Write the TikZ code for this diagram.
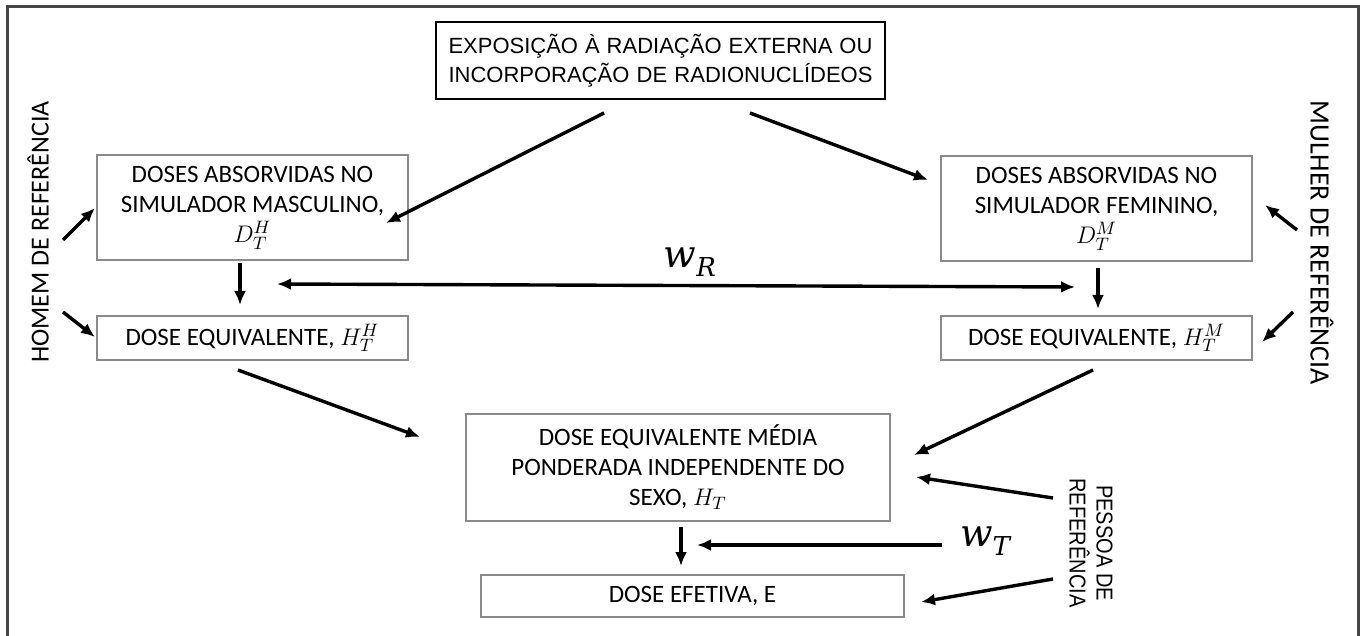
\documentclass[tikz,border=0pt]{standalone}
\usepackage{fontspec}
\setmainfont{Carlito}
\newfontfamily\arialf{Liberation Sans}
\newfontfamily\wfont{DejaVu Serif}
\usetikzlibrary{arrows.meta}
\definecolor{boxgray}{HTML}{8A8A8A}
\definecolor{framegray}{HTML}{454545}
\begin{document}
\begin{tikzpicture}[x=0.5pt,y=-0.5pt,
  box/.style={draw=boxgray,line width=0.8pt,inner sep=0pt,align=center,font=\fontsize{12.5}{15}\selectfont},
  topbox/.style={draw=black,line width=0.8pt,inner sep=0pt,align=center,font=\arialf\fontsize{11}{14.5}\selectfont},
  weight/.style={inner sep=0pt,font=\wfont\itshape\fontsize{19}{22}\selectfont},
  arr/.style={line width=1.7pt,-{Latex[length=7pt,width=6pt]}},
  darr/.style={line width=1.7pt,{Latex[length=7pt,width=6pt]}-{Latex[length=7pt,width=6pt]}}]
\useasboundingbox (0,0) rectangle (1360,636);
\fill[white] (0,0) rectangle (1360,636);
\draw[framegray,line width=1.5pt] (7,636) -- (7,7) -- (1358,7) -- (1358,636);

% boxes
\node[topbox,minimum width=224.5pt,minimum height=38.5pt] (top) at (660.5,60.5)
  {\makebox[212pt][s]{EXPOSIÇÃO À RADIAÇÃO EXTERNA OU}\\\makebox[212pt][s]{INCORPORAÇÃO DE RADIONUCLÍDEOS}};
\node[box,minimum width=155.5pt,minimum height=52.5pt] (L1) at (252.5,207.5)
  {DOSES ABSORVIDAS NO\\SIMULADOR MASCULINO,\\$D_T^H$};
\node[box,minimum width=155.5pt,minimum height=52.5pt] (R1) at (1096.5,208.5)
  {DOSES ABSORVIDAS NO\\SIMULADOR FEMININO,\\$D_T^M$};
\node[box,minimum width=155.5pt,minimum height=22pt] (L2) at (252.5,338)
  {DOSE EQUIVALENTE, $H_T^H$};
\node[box,minimum width=155.5pt,minimum height=22pt] (R2) at (1096.5,338)
  {DOSE EQUIVALENTE, $H_T^M$};
\node[box,minimum width=212pt,minimum height=53.5pt] (M) at (678,467.5)
  {DOSE EQUIVALENTE MÉDIA\\PONDERADA INDEPENDENTE DO\\SEXO, $H_T$};
\node[box,minimum width=211.5pt,minimum height=21pt] (B) at (692.5,596)
  {DOSE EFETIVA, E};

% side labels
\node[inner sep=0pt,rotate=90,font=\fontsize{13}{15}\selectfont] (homem) at (38,232) {HOMEM DE REFERÊNCIA};
\node[inner sep=0pt,rotate=-90,font=\fontsize{14}{15}\selectfont] (mulher) at (1322,243) {MULHER DE REFERÊNCIA};
\node[inner sep=0pt,rotate=-90,align=center,font=\arialf\fontsize{10}{13.5}\selectfont] (pessoa) at (1091,543)
  {\scalebox{1}[1.15]{PESSOA DE}\\\scalebox{1}[1.15]{REFERÊNCIA}};

% weights
\node[weight] (wR) at (690,262) {w\raisebox{-0.25em}{\fontsize{13}{13}\selectfont R}};
\node[weight] (wT) at (985,541) {w\raisebox{-0.25em}{\fontsize{13}{13}\selectfont T}};

% arrow end points
\coordinate (a1s) at (604,113); \coordinate (a1e) at (386,223);
\coordinate (a2s) at (750,113); \coordinate (a2e) at (928,180);
\coordinate (h1s) at (63,240);  \coordinate (h1e) at (95,208);
\coordinate (h2s) at (63,312);  \coordinate (h2e) at (95,337);
\coordinate (dLs) at (240,263); \coordinate (dLe) at (240,305);
\coordinate (wRl) at (277,284); \coordinate (wRr) at (1075,287);
\coordinate (dRs) at (1098,268); \coordinate (dRe) at (1098,309);
\coordinate (m1s) at (1297,230); \coordinate (m1e) at (1265,205);
\coordinate (m2s) at (1293,312); \coordinate (m2e) at (1262,342);
\coordinate (c1s) at (238,370); \coordinate (c1e) at (420,437);
\coordinate (c2s) at (1093,370); \coordinate (c2e) at (914,455);
\coordinate (p1s) at (1053,498); \coordinate (p1e) at (916,477);
\coordinate (p2s) at (1053,579); \coordinate (p2e) at (921,602);
\coordinate (wTs) at (942,545); \coordinate (wTe) at (697,545);
\coordinate (dMs) at (681,527); \coordinate (dMe) at (681,566);

\draw[arr] (a1s) -- (a1e);
\draw[arr] (a2s) -- (a2e);
\draw[arr] (h1s) -- (h1e);
\draw[arr] (h2s) -- (h2e);
\draw[arr] (dLs) -- (dLe);
\draw[darr] (wRl) -- (wRr);
\draw[arr] (dRs) -- (dRe);
\draw[arr] (m1s) -- (m1e);
\draw[arr] (m2s) -- (m2e);
\draw[arr] (c1s) -- (c1e);
\draw[arr] (c2s) -- (c2e);
\draw[arr] (p1s) -- (p1e);
\draw[arr] (p2s) -- (p2e);
\draw[arr] (wTs) -- (wTe);
\draw[arr] (dMs) -- (dMe);
\end{tikzpicture}
\end{document}
